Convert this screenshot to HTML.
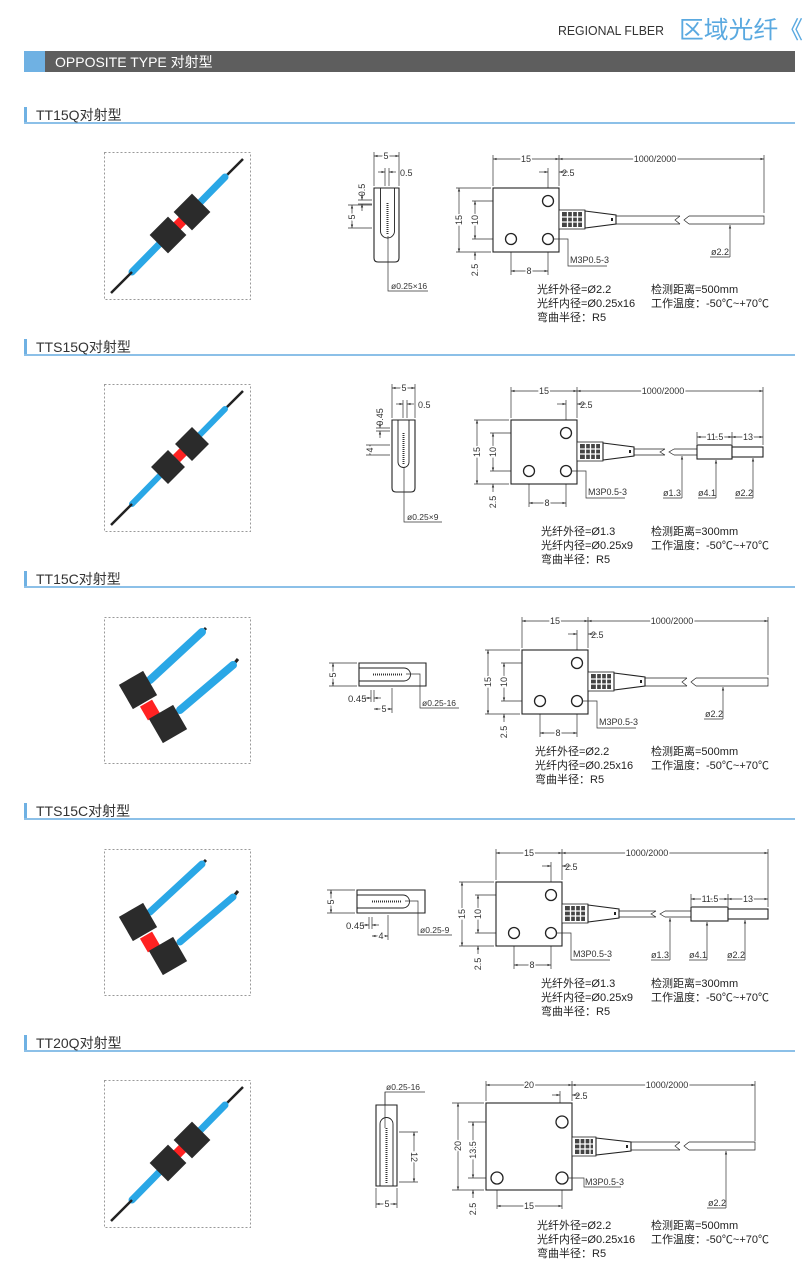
<!DOCTYPE html>
<html><head><meta charset="utf-8">
<style>
html,body{margin:0;padding:0;background:#fff;width:811px;height:1275px;overflow:hidden}
svg text{font-family:"Liberation Sans","Noto Sans CJK SC",sans-serif;fill:#333}
.d{stroke:#333;stroke-width:0.7;fill:none}
.dm{stroke:#333;stroke-width:0.7;fill:none;marker-start:url(#a);marker-end:url(#a)}
.de{stroke:#333;stroke-width:0.7;fill:none;marker-end:url(#a)}
.o{stroke:#222;stroke-width:1.1;fill:#fff}
.t{font-size:9px;paint-order:stroke;stroke:#fff;stroke-width:3px}
.s{font-size:11px;fill:#222}
.box{fill:none;stroke:#999;stroke-width:1;stroke-dasharray:2 2}
</style></head><body>
<svg width="811" height="1275" viewBox="0 0 811 1275" xmlns="http://www.w3.org/2000/svg">
<defs>
<marker id="a" viewBox="0 0 6 6" refX="6" refY="3" markerWidth="5" markerHeight="5" orient="auto-start-reverse"><path d="M0,1 L6,3 L0,5z" fill="#333"/></marker>
</defs>

<!-- header -->
<text x="558" y="35" font-size="13" textLength="106" lengthAdjust="spacingAndGlyphs" style="fill:#333">REGIONAL FLBER</text>
<text x="679" y="38" font-size="24" textLength="124" lengthAdjust="spacingAndGlyphs" style="fill:#5aa9e0">区域光纤《</text>
<rect x="24" y="51" width="771" height="21" fill="#5e5e5e"/>
<rect x="24" y="51" width="21" height="21" fill="#6fb1e3"/>
<text x="55" y="67" font-size="14" style="fill:#fff">OPPOSITE TYPE 对射型</text>

<!-- section titles -->
<g>
<rect x="24" y="107" width="3" height="16" fill="#6fb1e3"/><rect x="24" y="122" width="771" height="2" fill="#8cc0e8"/><text x="36" y="120" font-size="14">TT15Q对射型</text>
<rect x="24" y="339" width="3" height="16" fill="#6fb1e3"/><rect x="24" y="354" width="771" height="2" fill="#8cc0e8"/><text x="36" y="352" font-size="14">TTS15Q对射型</text>
<rect x="24" y="571" width="3" height="16" fill="#6fb1e3"/><rect x="24" y="586" width="771" height="2" fill="#8cc0e8"/><text x="36" y="584" font-size="14">TT15C对射型</text>
<rect x="24" y="803" width="3" height="16" fill="#6fb1e3"/><rect x="24" y="818" width="771" height="2" fill="#8cc0e8"/><text x="36" y="816" font-size="14">TTS15C对射型</text>
<rect x="24" y="1035" width="3" height="16" fill="#6fb1e3"/><rect x="24" y="1050" width="771" height="2" fill="#8cc0e8"/><text x="36" y="1048" font-size="14">TT20Q对射型</text>
</g>

<!-- photos: Q type -->
<g transform="translate(104,152)">
<rect class="box" x="0.5" y="0.5" width="146" height="147"/>
<line x1="139" y1="7" x2="121" y2="25" stroke="#222" stroke-width="2.5"/>
<line x1="121" y1="25" x2="28" y2="120" stroke="#2aa7e6" stroke-width="7" stroke-linecap="round"/>
<line x1="28" y1="120" x2="7" y2="141" stroke="#222" stroke-width="2.5"/>
<rect x="-5" y="-5" width="10" height="10" fill="#f22" transform="translate(76,71) rotate(45)"/>
<rect x="-13" y="-13" width="26" height="26" fill="#2b2b2b" transform="translate(88,60) rotate(45)"/>
<rect x="-13" y="-13" width="26" height="26" fill="#2b2b2b" transform="translate(64,83) rotate(45)"/>
</g>
<g transform="translate(104,384)">
<rect class="box" x="0.5" y="0.5" width="146" height="147"/>
<line x1="139" y1="7" x2="121" y2="25" stroke="#222" stroke-width="2.5"/>
<line x1="121" y1="25" x2="28" y2="120" stroke="#2aa7e6" stroke-width="6" stroke-linecap="round"/>
<line x1="28" y1="120" x2="7" y2="141" stroke="#222" stroke-width="2.5"/>
<rect x="-5" y="-5" width="10" height="10" fill="#f22" transform="translate(76,71) rotate(45)"/>
<rect x="-12" y="-12" width="24" height="24" fill="#2b2b2b" transform="translate(88,60) rotate(45)"/>
<rect x="-12" y="-12" width="24" height="24" fill="#2b2b2b" transform="translate(64,83) rotate(45)"/>
</g>
<g transform="translate(104,1080)">
<rect class="box" x="0.5" y="0.5" width="146" height="147"/>
<line x1="139" y1="7" x2="121" y2="25" stroke="#222" stroke-width="2.5"/>
<line x1="121" y1="25" x2="28" y2="120" stroke="#2aa7e6" stroke-width="7" stroke-linecap="round"/>
<line x1="28" y1="120" x2="7" y2="141" stroke="#222" stroke-width="2.5"/>
<rect x="-5" y="-5" width="10" height="10" fill="#f22" transform="translate(76,71) rotate(45)"/>
<rect x="-13" y="-13" width="26" height="26" fill="#2b2b2b" transform="translate(88,60) rotate(45)"/>
<rect x="-13" y="-13" width="26" height="26" fill="#2b2b2b" transform="translate(64,83) rotate(45)"/>
</g>
<!-- photos: C type -->
<g transform="translate(104,617)">
<rect class="box" x="0.5" y="0.5" width="146" height="146"/>
<line x1="98" y1="15" x2="102" y2="11" stroke="#222" stroke-width="3"/>
<line x1="46" y1="63" x2="98" y2="15" stroke="#2aa7e6" stroke-width="8" stroke-linecap="round"/>
<line x1="129" y1="48" x2="134" y2="42" stroke="#222" stroke-width="3"/>
<line x1="76" y1="93" x2="129" y2="48" stroke="#2aa7e6" stroke-width="8" stroke-linecap="round"/>
<rect x="-7" y="-8" width="14" height="16" fill="#f22" transform="translate(46,93) rotate(-30)"/>
<rect x="-14" y="-14" width="28" height="28" fill="#2b2b2b" transform="translate(34,73) rotate(-30)"/>
<rect x="-14" y="-14" width="28" height="28" fill="#2b2b2b" transform="translate(64,107) rotate(-30)"/>
</g>
<g transform="translate(104,849)">
<rect class="box" x="0.5" y="0.5" width="146" height="146"/>
<line x1="98" y1="15" x2="102" y2="11" stroke="#222" stroke-width="3"/>
<line x1="46" y1="63" x2="98" y2="15" stroke="#2aa7e6" stroke-width="7" stroke-linecap="round"/>
<line x1="129" y1="48" x2="134" y2="42" stroke="#222" stroke-width="3"/>
<line x1="76" y1="93" x2="129" y2="48" stroke="#2aa7e6" stroke-width="7" stroke-linecap="round"/>
<rect x="-7" y="-8" width="14" height="16" fill="#f22" transform="translate(46,93) rotate(-30)"/>
<rect x="-14" y="-14" width="28" height="28" fill="#2b2b2b" transform="translate(34,73) rotate(-30)"/>
<rect x="-14" y="-14" width="28" height="28" fill="#2b2b2b" transform="translate(64,107) rotate(-30)"/>
</g>

<!-- ===== Section 1 main view ===== -->
<g transform="translate(493,188)">
<path class="d" d="M0,-2V-33M66,-2V-33M55,8V-20M271,25V-33M-2,0H-37M-2,64H-37M10,13H-21M10,51H-21M18,53V87M55,53V87"/>
<line class="dm" x1="0" y1="-29" x2="66" y2="-29"/><line class="dm" x1="66" y1="-29" x2="271" y2="-29"/>
<line class="de" x1="46" y1="-16" x2="55" y2="-16"/><line class="de" x1="75" y1="-16" x2="66" y2="-16"/>
<line class="dm" x1="-34" y1="0" x2="-34" y2="64"/><line class="dm" x1="-18" y1="13" x2="-18" y2="51"/><line class="de" x1="-18" y1="72" x2="-18" y2="64"/>
<line class="dm" x1="18" y1="83" x2="55" y2="83"/>
<text class="t" x="33" y="-26" text-anchor="middle">15</text><text class="t" x="162" y="-26" text-anchor="middle">1000/2000</text>
<text x="69" y="-12" font-size="9">2.5</text>
<text class="t" transform="translate(-31,32) rotate(-90)" text-anchor="middle">15</text>
<text class="t" transform="translate(-15,32) rotate(-90)" text-anchor="middle">10</text>
<text x="0" y="0" font-size="9" transform="translate(-15,82) rotate(-90)" text-anchor="middle">2.5</text>
<text class="t" x="36" y="86" text-anchor="middle">8</text>
<rect class="o" x="0" y="0" width="66" height="64"/>
<circle cx="55" cy="13" r="5.5" fill="none" stroke="#222" stroke-width="1.3"/><circle cx="18" cy="51" r="5.5" fill="none" stroke="#222" stroke-width="1.3"/><circle cx="55" cy="51" r="5.5" fill="none" stroke="#222" stroke-width="1.3"/>
<rect x="66" y="22" width="26" height="19" fill="#fff" stroke="#222" stroke-width="0.8"/>
<rect x="69" y="24" width="20" height="15" fill="#444"/><path d="M74.5,24V39M79.5,24V39M84.5,24V39M69,29H89M69,34H89" stroke="#fff" stroke-width="1.3"/>
<path class="o" d="M92,23L123,27V36L92,40Z"/><rect x="118" y="30" width="2" height="3" fill="#222"/>
<path class="d" d="M123,28H187M123,36H187M187,28L182,32L187,36M196,28L191,32L196,36M196,28H271V36H196" style="stroke:#222"/>
<path class="de" d="M237,69V37"/><path class="d" d="M237,69H217"/><text x="218" y="67" font-size="9">ø2.2</text>
<path class="d" d="M60,51H75V78H114"/><text x="77" y="75" font-size="9" font-family="Liberation Mono">M3P0.5-3</text>
</g>
<!-- section 1 side view -->
<g>
<path class="d" d="M374,186V152M399,186V152M385,186V168M389,186V168M348,205H372M348,228H372M358,200H372M358,204H372"/>
<line class="dm" x1="374" y1="156" x2="399" y2="156"/>
<line class="de" x1="378" y1="172" x2="385" y2="172"/><line class="de" x1="396" y1="172" x2="389" y2="172"/>
<line class="dm" x1="352" y1="205" x2="352" y2="228"/>
<line class="de" x1="362" y1="193" x2="362" y2="200"/><line class="de" x1="362" y1="211" x2="362" y2="204"/>
<text class="t" x="386" y="159" text-anchor="middle">5</text><text x="400" y="176" font-size="9">0.5</text>
<text font-size="9" transform="translate(365,190) rotate(-90)" text-anchor="middle">0.5</text>
<text class="t" transform="translate(355,217) rotate(-90)" text-anchor="middle">5</text>
<path class="o" d="M374,188H399V258Q399,262 395,262H378Q374,262 374,258Z"/>
<path d="M380.5,188V231A7,7 0 0 0 394.5,231V188" fill="none" stroke="#222" stroke-width="0.9"/>
<line x1="387.5" y1="203" x2="387.5" y2="234" stroke="#333" stroke-width="2" stroke-dasharray="1 1"/>
<path class="d" d="M388,236V291H428"/><text x="391" y="289" font-size="8.5">ø0.25×16</text>
</g>
<text class="s" x="537" y="293">光纤外径=Ø2.2</text><text class="s" x="537" y="307">光纤内径=Ø0.25x16</text><text class="s" x="537" y="321">弯曲半径：R5</text>
<text class="s" x="651" y="293">检测距离=500mm</text><text class="s" x="651" y="307">工作温度：-50℃~+70℃</text>

<!-- ===== Section 2 main view ===== -->
<g transform="translate(511,420)">
<path class="d" d="M0,-2V-33M66,-2V-33M55,8V-20M252,25V-33M-2,0H-37M-2,64H-37M10,13H-21M10,51H-21M18,53V87M55,53V87M186,24V12M221,24V12"/>
<line class="dm" x1="0" y1="-29" x2="66" y2="-29"/><line class="dm" x1="66" y1="-29" x2="252" y2="-29"/>
<line class="de" x1="46" y1="-16" x2="55" y2="-16"/><line class="de" x1="75" y1="-16" x2="66" y2="-16"/>
<line class="dm" x1="-34" y1="0" x2="-34" y2="64"/><line class="dm" x1="-18" y1="13" x2="-18" y2="51"/><line class="de" x1="-18" y1="72" x2="-18" y2="64"/>
<line class="dm" x1="18" y1="83" x2="55" y2="83"/>
<line class="dm" x1="186" y1="17" x2="221" y2="17"/><line class="dm" x1="221" y1="17" x2="252" y2="17"/>
<text class="t" x="33" y="-26" text-anchor="middle">15</text><text class="t" x="152" y="-26" text-anchor="middle">1000/2000</text>
<text x="69" y="-12" font-size="9">2.5</text>
<text class="t" x="204" y="20" text-anchor="middle" font-size="8">11.5</text><text class="t" x="237" y="20" text-anchor="middle" font-size="8">13</text>
<text class="t" transform="translate(-31,32) rotate(-90)" text-anchor="middle">15</text>
<text class="t" transform="translate(-15,32) rotate(-90)" text-anchor="middle">10</text>
<text font-size="9" transform="translate(-15,82) rotate(-90)" text-anchor="middle">2.5</text>
<text class="t" x="36" y="86" text-anchor="middle">8</text>
<rect class="o" x="0" y="0" width="66" height="64"/>
<circle cx="55" cy="13" r="5.5" fill="none" stroke="#222" stroke-width="1.3"/><circle cx="18" cy="51" r="5.5" fill="none" stroke="#222" stroke-width="1.3"/><circle cx="55" cy="51" r="5.5" fill="none" stroke="#222" stroke-width="1.3"/>
<rect x="66" y="22" width="26" height="19" fill="#fff" stroke="#222" stroke-width="0.8"/>
<rect x="69" y="24" width="20" height="15" fill="#444"/><path d="M74.5,24V39M79.5,24V39M84.5,24V39M69,29H89M69,34H89" stroke="#fff" stroke-width="1.3"/>
<path class="o" d="M92,23L123,27V36L92,40Z"/><rect x="118" y="30" width="2" height="3" fill="#222"/>
<path class="d" d="M123,29H154M123,35H154M154,29L149,32L154,35M163,29L158,32L163,35M163,29H186M163,35H186" style="stroke:#222"/>
<rect class="o" x="186" y="25" width="35" height="14"/><rect class="o" x="221" y="27" width="31" height="10"/>
<path class="de" d="M171,78V36"/><path class="d" d="M171,78H152"/><text x="152" y="76" font-size="9">ø1.3</text>
<path class="de" d="M205,78V40"/><path class="d" d="M205,78H187"/><text x="187" y="76" font-size="9">ø4.1</text>
<path class="de" d="M242,78V38"/><path class="d" d="M242,78H224"/><text x="224" y="76" font-size="9">ø2.2</text>
<path class="d" d="M60,51H75V78H114"/><text x="77" y="75" font-size="9" font-family="Liberation Mono">M3P0.5-3</text>
</g>
<!-- section 2 side view -->
<g>
<path class="d" d="M392,418V384M415,418V384M403,418V400M407,418V400M366,445H390M366,455H390M376,428H390M376,431H390"/>
<line class="dm" x1="392" y1="388" x2="415" y2="388"/>
<line class="de" x1="396" y1="404" x2="403" y2="404"/><line class="de" x1="414" y1="404" x2="407" y2="404"/>
<line class="dm" x1="370" y1="445" x2="370" y2="455"/>
<line class="de" x1="380" y1="421" x2="380" y2="428"/><line class="de" x1="380" y1="438" x2="380" y2="431"/>
<text class="t" x="404" y="391" text-anchor="middle">5</text><text x="418" y="408" font-size="9">0.5</text>
<text font-size="9" transform="translate(383,417) rotate(-90)" text-anchor="middle">0.45</text>
<text class="t" transform="translate(373,450) rotate(-90)" text-anchor="middle">4</text>
<path class="o" d="M392,420H415V488Q415,492 411,492H396Q392,492 392,488Z"/>
<path d="M398,420V462A5.5,5.5 0 0 0 409,462V420" fill="none" stroke="#222" stroke-width="0.9"/>
<line x1="403.5" y1="433" x2="403.5" y2="465" stroke="#333" stroke-width="2" stroke-dasharray="1 1"/>
<path class="d" d="M404,467V522H442"/><text x="407" y="520" font-size="8.5">ø0.25×9</text>
</g>
<text class="s" x="541" y="535">光纤外径=Ø1.3</text><text class="s" x="541" y="549">光纤内径=Ø0.25x9</text><text class="s" x="541" y="563">弯曲半径：R5</text>
<text class="s" x="651" y="535">检测距离=300mm</text><text class="s" x="651" y="549">工作温度：-50℃~+70℃</text>

<!-- ===== Section 3 main view ===== -->
<g transform="translate(522,650)">
<path class="d" d="M0,-2V-33M66,-2V-33M55,8V-20M246,25V-33M-2,0H-37M-2,64H-37M10,13H-21M10,51H-21M18,53V87M55,53V87"/>
<line class="dm" x1="0" y1="-29" x2="66" y2="-29"/><line class="dm" x1="66" y1="-29" x2="246" y2="-29"/>
<line class="de" x1="46" y1="-16" x2="55" y2="-16"/><line class="de" x1="75" y1="-16" x2="66" y2="-16"/>
<line class="dm" x1="-34" y1="0" x2="-34" y2="64"/><line class="dm" x1="-18" y1="13" x2="-18" y2="51"/><line class="de" x1="-18" y1="72" x2="-18" y2="64"/>
<line class="dm" x1="18" y1="83" x2="55" y2="83"/>
<text class="t" x="33" y="-26" text-anchor="middle">15</text><text class="t" x="150" y="-26" text-anchor="middle">1000/2000</text>
<text x="69" y="-12" font-size="9">2.5</text>
<text class="t" transform="translate(-31,32) rotate(-90)" text-anchor="middle">15</text>
<text class="t" transform="translate(-15,32) rotate(-90)" text-anchor="middle">10</text>
<text font-size="9" transform="translate(-15,82) rotate(-90)" text-anchor="middle">2.5</text>
<text class="t" x="36" y="86" text-anchor="middle">8</text>
<rect class="o" x="0" y="0" width="66" height="64"/>
<circle cx="55" cy="13" r="5.5" fill="none" stroke="#222" stroke-width="1.3"/><circle cx="18" cy="51" r="5.5" fill="none" stroke="#222" stroke-width="1.3"/><circle cx="55" cy="51" r="5.5" fill="none" stroke="#222" stroke-width="1.3"/>
<rect x="66" y="22" width="26" height="19" fill="#fff" stroke="#222" stroke-width="0.8"/>
<rect x="69" y="24" width="20" height="15" fill="#444"/><path d="M74.5,24V39M79.5,24V39M84.5,24V39M69,29H89M69,34H89" stroke="#fff" stroke-width="1.3"/>
<path class="o" d="M92,23L123,27V36L92,40Z"/><rect x="118" y="30" width="2" height="3" fill="#222"/>
<path class="d" d="M123,28H165M123,36H165M165,28L160,32L165,36M174,28L169,32L174,36M174,28H246V36H174" style="stroke:#222"/>
<path class="de" d="M201,69V37"/><path class="d" d="M201,69H182"/><text x="183" y="67" font-size="9">ø2.2</text>
<path class="d" d="M60,51H75V78H114"/><text x="77" y="75" font-size="9" font-family="Liberation Mono">M3P0.5-3</text>
</g>
<!-- section 3 side view -->
<g>
<path class="d" d="M329,663H357M329,686H357M371,690V702M374,690V702M392,688V713"/>
<line class="dm" x1="333" y1="663" x2="333" y2="686"/>
<line class="de" x1="364" y1="698" x2="371" y2="698"/><line class="de" x1="381" y1="698" x2="374" y2="698"/>
<line class="dm" x1="374" y1="709" x2="392" y2="709"/>
<text class="t" transform="translate(336,675) rotate(-90)" text-anchor="middle">5</text>
<text x="348" y="702" font-size="9.5">0.45</text><text class="t" x="384" y="712" text-anchor="middle">5</text>
<path class="o" d="M359,663H426V686H359Z"/>
<path d="M359,668H404A6,6 0 0 1 404,681H359" fill="none" stroke="#222" stroke-width="0.9"/>
<line x1="373" y1="674.5" x2="403" y2="674.5" stroke="#333" stroke-width="2" stroke-dasharray="1 1"/>
<path class="d" d="M406,674H420V708H459"/><text x="422" y="706" font-size="8.5">ø0.25-16</text>
</g>
<text class="s" x="535" y="755">光纤外径=Ø2.2</text><text class="s" x="535" y="769">光纤内径=Ø0.25x16</text><text class="s" x="535" y="783">弯曲半径：R5</text>
<text class="s" x="651" y="755">检测距离=500mm</text><text class="s" x="651" y="769">工作温度：-50℃~+70℃</text>

<!-- ===== Section 4 main view ===== -->
<g transform="translate(496,882)">
<path class="d" d="M0,-2V-33M66,-2V-33M55,8V-20M272,25V-33M-2,0H-37M-2,64H-37M10,13H-21M10,51H-21M18,53V87M55,53V87M195,24V12M232,24V12"/>
<line class="dm" x1="0" y1="-29" x2="66" y2="-29"/><line class="dm" x1="66" y1="-29" x2="272" y2="-29"/>
<line class="de" x1="46" y1="-16" x2="55" y2="-16"/><line class="de" x1="75" y1="-16" x2="66" y2="-16"/>
<line class="dm" x1="-34" y1="0" x2="-34" y2="64"/><line class="dm" x1="-18" y1="13" x2="-18" y2="51"/><line class="de" x1="-18" y1="72" x2="-18" y2="64"/>
<line class="dm" x1="18" y1="83" x2="55" y2="83"/>
<line class="dm" x1="195" y1="17" x2="232" y2="17"/><line class="dm" x1="232" y1="17" x2="272" y2="17"/>
<text class="t" x="33" y="-26" text-anchor="middle">15</text><text class="t" x="151" y="-26" text-anchor="middle">1000/2000</text>
<text x="69" y="-12" font-size="9">2.5</text>
<text class="t" x="214" y="20" text-anchor="middle" font-size="8">11.5</text><text class="t" x="252" y="20" text-anchor="middle" font-size="8">13</text>
<text class="t" transform="translate(-31,32) rotate(-90)" text-anchor="middle">15</text>
<text class="t" transform="translate(-15,32) rotate(-90)" text-anchor="middle">10</text>
<text font-size="9" transform="translate(-15,82) rotate(-90)" text-anchor="middle">2.5</text>
<text class="t" x="36" y="86" text-anchor="middle">8</text>
<rect class="o" x="0" y="0" width="66" height="64"/>
<circle cx="55" cy="13" r="5.5" fill="none" stroke="#222" stroke-width="1.3"/><circle cx="18" cy="51" r="5.5" fill="none" stroke="#222" stroke-width="1.3"/><circle cx="55" cy="51" r="5.5" fill="none" stroke="#222" stroke-width="1.3"/>
<rect x="66" y="22" width="26" height="19" fill="#fff" stroke="#222" stroke-width="0.8"/>
<rect x="69" y="24" width="20" height="15" fill="#444"/><path d="M74.5,24V39M79.5,24V39M84.5,24V39M69,29H89M69,34H89" stroke="#fff" stroke-width="1.3"/>
<path class="o" d="M92,23L123,27V36L92,40Z"/><rect x="118" y="30" width="2" height="3" fill="#222"/>
<path class="d" d="M123,29H160M123,35H160M160,29L155,32L160,35M169,29L164,32L169,35M169,29H195M169,35H195" style="stroke:#222"/>
<rect class="o" x="195" y="25" width="37" height="14"/><rect class="o" x="232" y="27" width="40" height="10"/>
<path class="de" d="M174,78V36"/><path class="d" d="M174,78H155"/><text x="155" y="76" font-size="9">ø1.3</text>
<path class="de" d="M211,78V40"/><path class="d" d="M211,78H193"/><text x="193" y="76" font-size="9">ø4.1</text>
<path class="de" d="M249,78V38"/><path class="d" d="M249,78H231"/><text x="231" y="76" font-size="9">ø2.2</text>
<path class="d" d="M60,51H75V78H114"/><text x="77" y="75" font-size="9" font-family="Liberation Mono">M3P0.5-3</text>
</g>
<!-- section 4 side view -->
<g>
<path class="d" d="M327,890H355M327,913H355M369,917V929M372,917V929M388,915V940"/>
<line class="dm" x1="331" y1="890" x2="331" y2="913"/>
<line class="de" x1="362" y1="925" x2="369" y2="925"/><line class="de" x1="379" y1="925" x2="372" y2="925"/>
<line class="dm" x1="372" y1="936" x2="388" y2="936"/>
<text class="t" transform="translate(334,902) rotate(-90)" text-anchor="middle">5</text>
<text x="346" y="929" font-size="9.5">0.45</text><text class="t" x="381" y="939" text-anchor="middle">4</text>
<path class="o" d="M357,890H425V913H357Z"/>
<path d="M357,895H403A6,6 0 0 1 403,908H357" fill="none" stroke="#222" stroke-width="0.9"/>
<line x1="372" y1="901.5" x2="402" y2="901.5" stroke="#333" stroke-width="2" stroke-dasharray="1 1"/>
<path class="d" d="M405,901H418V935H452"/><text x="420" y="933" font-size="8.5">ø0.25-9</text>
</g>
<text class="s" x="541" y="987">光纤外径=Ø1.3</text><text class="s" x="541" y="1001">光纤内径=Ø0.25x9</text><text class="s" x="541" y="1015">弯曲半径：R5</text>
<text class="s" x="651" y="987">检测距离=300mm</text><text class="s" x="651" y="1001">工作温度：-50℃~+70℃</text>

<!-- ===== Section 5 main view ===== -->
<g transform="translate(486,1103)">
<path class="d" d="M0,-2V-22M86,-2V-22M74,8V-12M269,38V-22M-2,0H-34M-2,87H-34M10,19H-18M10,75H-18M11,77V106M76,77V106"/>
<line class="dm" x1="0" y1="-18" x2="86" y2="-18"/><line class="dm" x1="86" y1="-18" x2="269" y2="-18"/>
<line class="de" x1="66" y1="-8" x2="74" y2="-8"/><line class="de" x1="94" y1="-8" x2="86" y2="-8"/>
<line class="dm" x1="-28" y1="0" x2="-28" y2="87"/><line class="dm" x1="-13" y1="19" x2="-13" y2="75"/><line class="de" x1="-13" y1="95" x2="-13" y2="87"/>
<line class="dm" x1="11" y1="103" x2="76" y2="103"/>
<text class="t" x="43" y="-15" text-anchor="middle">20</text><text class="t" x="181" y="-15" text-anchor="middle">1000/2000</text>
<text x="89" y="-4" font-size="9">2.5</text>
<text class="t" transform="translate(-25,43) rotate(-90)" text-anchor="middle">20</text>
<text class="t" transform="translate(-10,47) rotate(-90)" text-anchor="middle">13.5</text>
<text font-size="9" transform="translate(-10,106) rotate(-90)" text-anchor="middle">2.5</text>
<text class="t" x="43" y="106" text-anchor="middle">15</text>
<rect class="o" x="0" y="0" width="86" height="87"/>
<circle cx="76" cy="19" r="6" fill="none" stroke="#222" stroke-width="1.3"/><circle cx="11" cy="75" r="6" fill="none" stroke="#222" stroke-width="1.3"/><circle cx="76" cy="75" r="6" fill="none" stroke="#222" stroke-width="1.3"/>
<rect x="86" y="34" width="24" height="19" fill="#fff" stroke="#222" stroke-width="0.8"/>
<rect x="89" y="36" width="18" height="15" fill="#444"/><path d="M94,36V51M99,36V51M104,36V51M89,41H107M89,46H107" stroke="#fff" stroke-width="1.3"/>
<path class="o" d="M110,35L145,39V48L110,52Z"/><rect x="140" y="42" width="2" height="3" fill="#222"/>
<path class="d" d="M145,39H194M145,47H194M194,39L189,43L194,47M203,39L198,43L203,47M203,39H269V47H203" style="stroke:#222"/>
<path class="de" d="M240,105V48"/><path class="d" d="M240,105H221"/><text x="222" y="103" font-size="9">ø2.2</text>
<path class="d" d="M82,75H98V84H135"/><text x="99" y="82" font-size="9" font-family="Liberation Mono">M3P0.5-3</text>
</g>
<!-- section 5 side view -->
<g>
<path class="d" d="M376,1188V1208M397,1188V1208M399,1132H418M399,1182H418M385,1125V1092H425"/>
<line class="dm" x1="376" y1="1204" x2="397" y2="1204"/>
<line class="dm" x1="414" y1="1132" x2="414" y2="1182"/>
<text x="386" y="1090" font-size="8.5">ø0.25-16</text>
<text class="t" transform="translate(411,1157) rotate(90)" text-anchor="middle">12</text>
<text class="t" x="387" y="1207" text-anchor="middle">5</text>
<path class="o" d="M376,1105H397V1186H376Z"/>
<path d="M380,1186V1124A6.5,6.5 0 0 1 393,1124V1186" fill="none" stroke="#222" stroke-width="0.9"/>
<line x1="386.5" y1="1128" x2="386.5" y2="1183" stroke="#333" stroke-width="2" stroke-dasharray="1 1"/>
<path class="d" d="M385,1092V1128"/>
</g>
<text class="s" x="537" y="1229">光纤外径=Ø2.2</text><text class="s" x="537" y="1243">光纤内径=Ø0.25x16</text><text class="s" x="537" y="1257">弯曲半径：R5</text>
<text class="s" x="651" y="1229">检测距离=500mm</text><text class="s" x="651" y="1243">工作温度：-50℃~+70℃</text>
</svg>
</body></html>
